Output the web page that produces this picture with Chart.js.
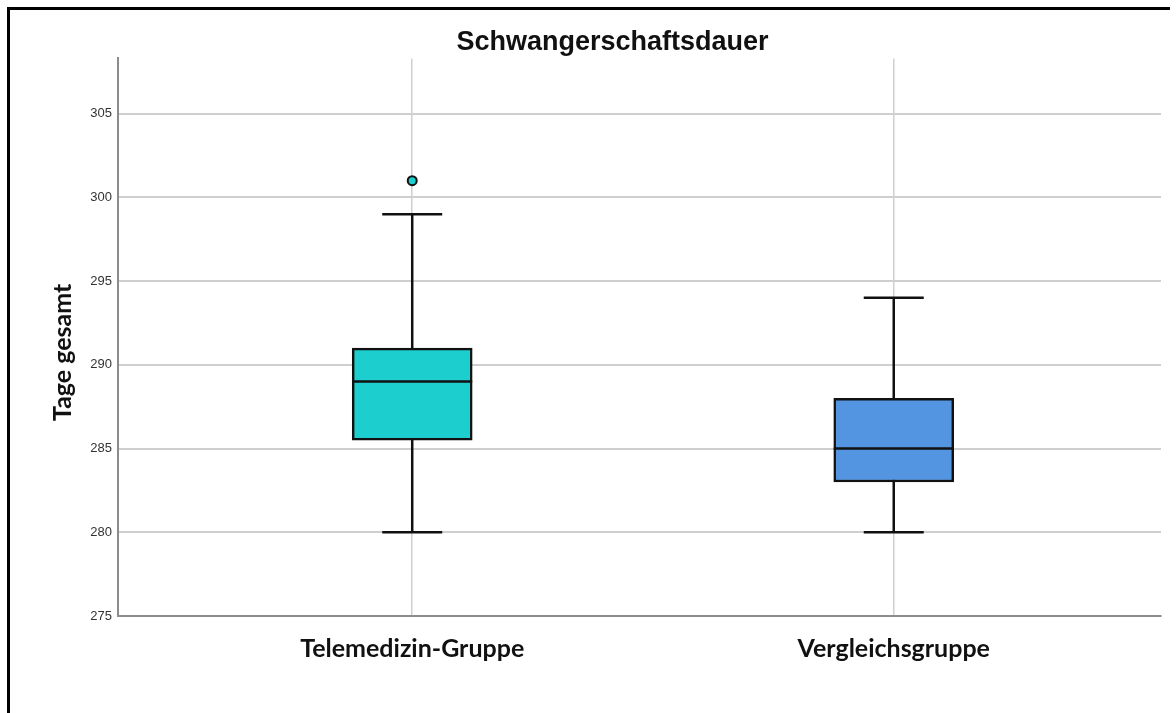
<!DOCTYPE html>
<html>
<head>
<meta charset="utf-8">
<title>Schwangerschaftsdauer</title>
<script src="https://cdn.jsdelivr.net/npm/chart.js@4.4.1/dist/chart.umd.min.js"></script>
<style>
  html, body { margin: 0; padding: 0; background: #fff; overflow: hidden; }
  #frame { position: absolute; left: 7px; top: 7px; width: 1160px; height: 800px; border-top: 3px solid #000; border-left: 3px solid #000; }
  #wrap { position: absolute; left: 0; top: 0; width: 1176px; height: 713px; }
</style>
</head>
<body>
<div id="frame"></div>
<div id="wrap"><canvas id="boxChart"></canvas></div>
<script>
// Boxplot-Werte
const groups = ['Telemedizin-Gruppe', 'Vergleichsgruppe'];
const groupPos = [1, 2];
const whiskerLow = [280, 280];
const q1 = [285.5, 283];
const median = [289, 285];
const q3 = [291, 288];
const whiskerHigh = [299, 294];
const outlierGroup = [1];
const outlierValue = [301];
const yTicks = [275, 280, 285, 290, 295, 300, 305];
const boxColors = ['#1ccece', '#5495e2'];

const boxWidth = 120;

// Whisker hinter den Boxen, Median darüber
const boxplotLines = {
    id: 'boxplotLines',
    beforeDatasetsDraw(chart) {
        const { ctx, scales: { x, y } } = chart;
        const cap = boxWidth / 4;
        ctx.save();
        ctx.strokeStyle = '#111';
        ctx.lineWidth = 2.5;
        groupPos.forEach((g, i) => {
            const px = x.getPixelForValue(g);
            const lo = y.getPixelForValue(whiskerLow[i]);
            const hi = y.getPixelForValue(whiskerHigh[i]);
            ctx.beginPath();
            ctx.moveTo(px, lo);
            ctx.lineTo(px, hi);
            ctx.moveTo(px - cap, lo);
            ctx.lineTo(px + cap, lo);
            ctx.moveTo(px - cap, hi);
            ctx.lineTo(px + cap, hi);
            ctx.stroke();
        });
        ctx.restore();
    },
    afterDatasetsDraw(chart) {
        const { ctx, scales: { x, y } } = chart;
        ctx.save();
        ctx.strokeStyle = '#111';
        ctx.lineWidth = 2.5;
        groupPos.forEach((g, i) => {
            const px = x.getPixelForValue(g);
            const py = y.getPixelForValue(median[i]);
            ctx.beginPath();
            ctx.moveTo(px - boxWidth / 2, py);
            ctx.lineTo(px + boxWidth / 2, py);
            ctx.stroke();
        });
        ctx.restore();
    }
};

const ctx = document.getElementById('boxChart').getContext('2d');
new Chart(ctx, {
    type: 'bar',
    data: {
        datasets: [{
            label: 'Box',
            data: groupPos.map((g, i) => ({ x: g, y: [q1[i], q3[i]] })),
            backgroundColor: boxColors,
            borderColor: '#111',
            borderWidth: 2.5,
            borderSkipped: false,
            barThickness: boxWidth
        }, {
            type: 'scatter',
            label: 'Ausreißer',
            data: outlierGroup.map((g, i) => ({ x: g, y: outlierValue[i] })),
            backgroundColor: boxColors[0],
            borderColor: '#111',
            borderWidth: 2,
            pointRadius: 4.5
        }]
    },
    options: {
        responsive: true,
        maintainAspectRatio: false,
        animation: false,
        layout: { padding: { left: 64, right: 15, top: 0, bottom: 0 } },
        plugins: {
            legend: { display: false },
            tooltip: { enabled: false },
            title: {
                display: true,
                text: 'Schwangerschaftsdauer',
                color: '#111',
                font: { family: 'Liberation Sans, Arial', size: 27, weight: 'bold' },
                padding: { top: 26, bottom: 0 }
            }
        },
        scales: {
            x: {
                type: 'linear',
                offset: false,
                min: 0.389,
                max: 2.555,
                afterBuildTicks: scale => { scale.ticks = groupPos.map(v => ({ value: v })); },
                afterFit: scale => { scale.height = 97; },
                ticks: {
                    callback: v => groups[groupPos.indexOf(v)],
                    color: '#111',
                    font: { family: 'Lato', size: 25, weight: 'bold' },
                    padding: 18,
                    maxRotation: 0
                },
                grid: { color: '#cfcfcf', lineWidth: 1.5, drawTicks: false, offset: false },
                border: { color: '#8c8c8c', width: 2 }
            },
            y: {
                min: 275,
                max: 308.3,
                afterBuildTicks: scale => { scale.ticks = yTicks.map(v => ({ value: v })); },
                afterFit: scale => { scale.width = 54; },
                ticks: {
                    color: '#333',
                    font: { family: 'Liberation Sans, Arial', size: 13 },
                    padding: 6
                },
                grid: { color: '#cfcfcf', lineWidth: 2, drawTicks: false },
                border: { color: '#8c8c8c', width: 2 },
                title: {
                    display: true,
                    text: 'Tage gesamt     ',
                    color: '#111',
                    font: { family: 'Lato', size: 25, weight: 'bold' },
                    padding: { top: -16, bottom: 0 }
                }
            }
        }
    },
    plugins: [boxplotLines]
});
</script>
</body>
</html>
